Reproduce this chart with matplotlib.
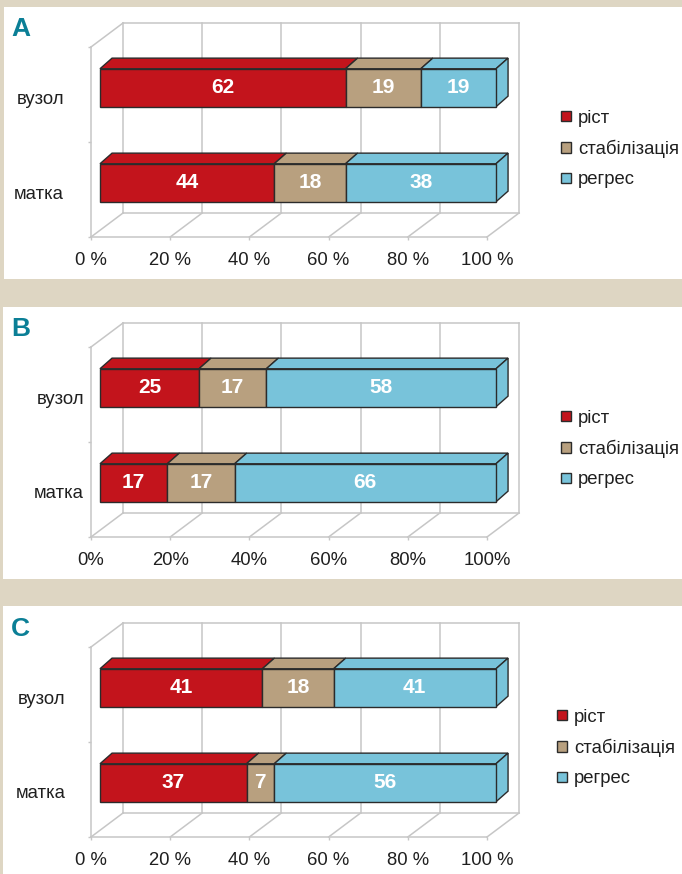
import matplotlib
matplotlib.use("Agg")
import matplotlib.pyplot as plt
from matplotlib.patches import Polygon, Rectangle, Patch
from matplotlib.transforms import ScaledTranslation
from matplotlib import font_manager

# data (percent of cases)
categories = ["матка", "вузол"]
series_names = ["ріст", "стабілізація", "регрес"]
colors = ["#c3141c", "#b8a07f", "#78c3da"]

a_rist = [44, 62]
a_stab = [18, 19]
a_regr = [38, 19]

b_rist = [17, 25]
b_stab = [17, 17]
b_regr = [66, 58]

c_rist = [37, 41]
c_stab = [7, 18]
c_regr = [56, 41]

ticks = [0, 20, 40, 60, 80, 100]

W, H = 682, 874
BEIGE = "#ded6c3"
TEAL = "#0b7f96"
GRID = "#c6c6c6"
EDGE = "#2b2b2b"
TXT = "#1f1f1f"

# oblique "3d" geometry in data units
DX, DY = 8.1, 0.253     # full depth of the floor / back wall
F1 = 0.28               # front plane of the bars
BAR_DX, BAR_DY = 3.05, 0.112
BAR_H = 0.4
FS = 13.3

names = {f.name for f in font_manager.fontManager.ttflist}
LETTER_FONT = "Liberation Sans Narrow" if "Liberation Sans Narrow" in names else "Liberation Sans"
plt.rcParams["font.family"] = ["Liberation Sans", "DejaVu Sans"]


def fx(px):
    return px / W


def fy(py):
    return 1 - py / H


def draw_walls(ax):
    kw = dict(color=GRID, lw=1.1, clip_on=False, zorder=1)
    for t in ticks:
        ax.plot([t + DX, t + DX], [DY, 2 + DY], **kw)
        ax.plot([t, t + DX], [0, DY], **kw)
    ax.plot([DX, 100 + DX], [2 + DY, 2 + DY], **kw)
    ax.plot([DX, 100 + DX], [DY, DY], **kw)
    ax.plot([0, DX], [2, 2 + DY], **kw)


def draw_bar(ax, x0, w, yc, color, last):
    y0, y1 = yc - BAR_H / 2, yc + BAR_H / 2
    x1 = x0 + w
    a, b = F1 * DX, F1 * DY
    c, d = a + BAR_DX, b + BAR_DY
    kw = dict(facecolor=color, edgecolor=EDGE, lw=1.0, clip_on=False, zorder=3,
              joinstyle="miter")
    ax.add_patch(Polygon([(x0 + a, y1 + b), (x1 + a, y1 + b), (x1 + c, y1 + d), (x0 + c, y1 + d)], **kw))
    if last:
        ax.add_patch(Polygon([(x1 + a, y0 + b), (x1 + c, y0 + d), (x1 + c, y1 + d), (x1 + a, y1 + b)], **kw))
    ax.add_patch(Polygon([(x0 + a, y0 + b), (x1 + a, y0 + b), (x1 + a, y1 + b), (x0 + a, y1 + b)], **kw))
    ax.text(x0 + w / 2 + a, yc + b, str(w), ha="center", va="center", color="white",
            fontsize=15, fontweight="bold", zorder=4)


panels = [
    ("A", [a_rist, a_stab, a_regr], 0, "{} %", 19.5, (561, 149), (4, 7, 279)),
    ("B", [b_rist, b_stab, b_regr], 300, "{}%", 5, (561, 449), (3, 307, 579)),
    ("C", [c_rist, c_stab, c_regr], 600, "{} %", 18.5, (557, 748), (3, 606, 874)),
]

fig = plt.figure(figsize=(W / 100, H / 100), dpi=100)
fig.patch.set_facecolor(BEIGE)
shift_down = ScaledTranslation(0, -2.5 / 100, fig.dpi_scale_trans)

for letter, series, off, fmt, ypad, leg_xy, box in panels:
    bx, btop, bbot = box
    fig.add_artist(Rectangle((fx(bx), fy(bbot)), fx(W - bx), (bbot - btop) / H,
                             transform=fig.transFigure, facecolor="white", edgecolor="none", zorder=0))
    fig.text(fx(11), fy(17 + off), letter, ha="left", va="top", color=TEAL,
             fontsize=19, fontweight="bold", family=LETTER_FONT)

    # axes = front plane of floor / left wall
    left, right, top, bottom = 91, 487, 47 + off, 237 + off
    ax = fig.add_axes([fx(left), fy(bottom), fx(right - left), (bottom - top) / H])
    ax.set_xlim(0, 100)
    ax.set_ylim(0, 2)
    ax.patch.set_visible(False)
    for s in ("top", "right"):
        ax.spines[s].set_visible(False)
    for s in ("left", "bottom"):
        ax.spines[s].set_color(GRID)
        ax.spines[s].set_linewidth(1.1)

    ax.set_xticks(ticks, [fmt.format(t) for t in ticks])
    ax.tick_params(axis="x", length=2.5, width=1, color=GRID, pad=8,
                   labelsize=FS, labelcolor=TXT)
    ax.set_yticks([0, 1, 2], [])
    ax.set_yticks([0.5, 1.5], categories, minor=True)
    ax.tick_params(axis="y", which="major", length=2.5, width=1, color=GRID)
    ax.tick_params(axis="y", which="minor", length=0, pad=ypad, labelsize=FS, labelcolor=TXT)
    for lab in ax.get_yticklabels(minor=True):
        lab.set_transform(lab.get_transform() + shift_down)

    draw_walls(ax)

    for i, yc in enumerate([0.5, 1.5]):
        start = 0
        for k, vals in enumerate(series):
            draw_bar(ax, start, vals[i], yc, colors[k], k == len(series) - 1)
            start += vals[i]

    lx, ly = leg_xy
    handles = [Patch(facecolor=c, edgecolor=EDGE, lw=1.0) for c in colors]
    ax.legend(handles, series_names, loc="center left",
              bbox_to_anchor=((lx - left) / (right - left), (bottom - ly) / (bottom - top)),
              frameon=False, fontsize=FS, labelcolor=TXT,
              handlelength=0.52, handleheight=0.52, handletextpad=0.4,
              labelspacing=0.72, borderpad=0, borderaxespad=0)

fig.savefig("out.png", dpi=100, facecolor=fig.get_facecolor())
